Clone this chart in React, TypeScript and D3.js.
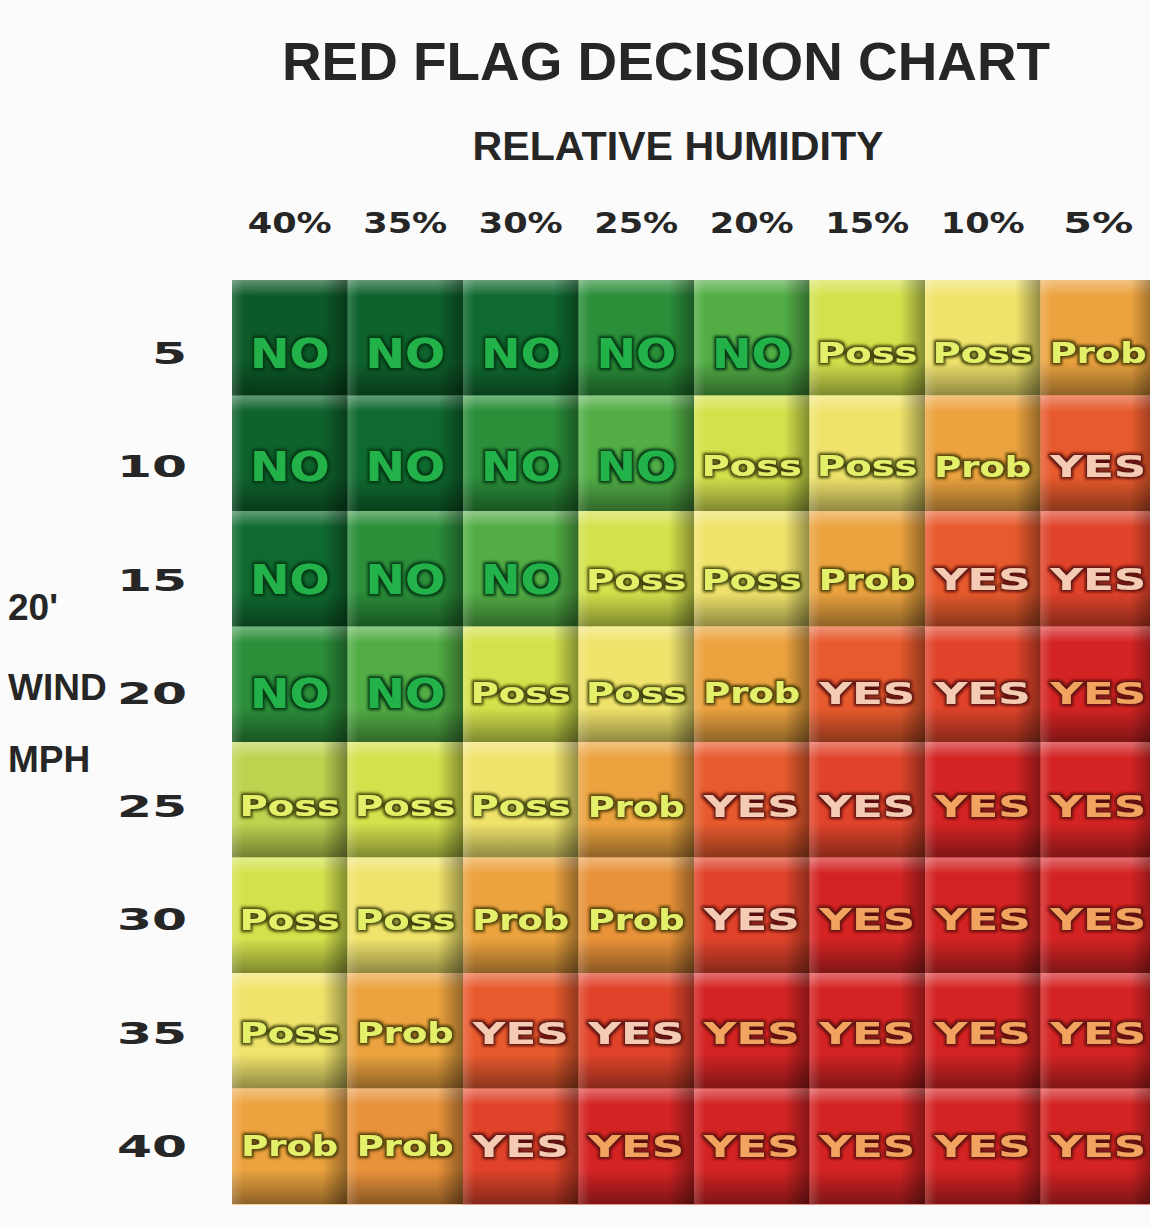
import { useRef, useEffect } from 'react';
import * as d3 from 'd3';

const humidity = ['40%', '35%', '30%', '25%', '20%', '15%', '10%', '5%'];
const windMph = ['5', '10', '15', '20', '25', '30', '35', '40'];
const decisions = [
  ['NO', 'NO', 'NO', 'NO', 'NO', 'Poss', 'Poss', 'Prob'],
  ['NO', 'NO', 'NO', 'NO', 'Poss', 'Poss', 'Prob', 'YES'],
  ['NO', 'NO', 'NO', 'Poss', 'Poss', 'Prob', 'YES', 'YES'],
  ['NO', 'NO', 'Poss', 'Poss', 'Prob', 'YES', 'YES', 'YES'],
  ['Poss', 'Poss', 'Poss', 'Prob', 'YES', 'YES', 'YES', 'YES'],
  ['Poss', 'Poss', 'Prob', 'Prob', 'YES', 'YES', 'YES', 'YES'],
  ['Poss', 'Prob', 'YES', 'YES', 'YES', 'YES', 'YES', 'YES'],
  ['Prob', 'Prob', 'YES', 'YES', 'YES', 'YES', 'YES', 'YES'],
];
const windTitle = ["20'", 'WIND', 'MPH'];

export default function App() {
  const ref = useRef<HTMLDivElement>(null);

  useEffect(() => {
    const container = ref.current;
    if (!container) return;
    d3.select(container).select('svg').remove();

    const width = 1150;
    const height = 1226;

    const svg = d3
      .select(container)
      .append('svg')
      .attr('width', width)
      .attr('height', height)
      .style('position', 'absolute')
      .style('left', '0px')
      .style('top', '0px')
      .style('background', '#fbfbfb');

    const defs = svg.append('defs');

    // pillow shading: vertical and horizontal
    const vg = defs.append('linearGradient').attr('id', 'pillow-v').attr('x1', 0).attr('y1', 0).attr('x2', 0).attr('y2', 1);
    [
      [0, '#fff', 0.35],
      [0.14, '#fff', 0.0],
      [0.7, '#000', 0.0],
      [1, '#000', 0.4],
    ].forEach(([o, c, a]) => vg.append('stop').attr('offset', o as number).attr('stop-color', c as string).attr('stop-opacity', a as number));
    const hg = defs.append('linearGradient').attr('id', 'pillow-h').attr('x1', 0).attr('y1', 0).attr('x2', 1).attr('y2', 0);
    [
      [0, '#fff', 0.18],
      [0.1, '#fff', 0.0],
      [0.78, '#000', 0.0],
      [1, '#000', 0.38],
    ].forEach(([o, c, a]) => hg.append('stop').attr('offset', o as number).attr('stop-color', c as string).attr('stop-opacity', a as number));

    // glow filters for cell text
    const glowColors: Record<string, string> = {
      NO: '#073413',
      Poss: '#3f420a',
      Prob: '#4a3a08',
      YES: '#5a0f0c',
    };
    Object.entries(glowColors).forEach(([k, c]) => {
      const f = defs.append('filter').attr('id', `glow-${k}`).attr('x', '-20%').attr('y', '-40%').attr('width', '140%').attr('height', '180%');
      f.append('feMorphology').attr('in', 'SourceAlpha').attr('operator', 'dilate').attr('radius', 2).attr('result', 'd');
      f.append('feGaussianBlur').attr('in', 'd').attr('stdDeviation', 1.6).attr('result', 'b');
      f.append('feFlood').attr('flood-color', c).attr('result', 'fl');
      f.append('feComposite').attr('in', 'fl').attr('in2', 'b').attr('operator', 'in').attr('result', 's');
      const m = f.append('feMerge');
      m.append('feMergeNode').attr('in', 's');
      m.append('feMergeNode').attr('in', 'SourceGraphic');
    });

    const x = d3.scaleBand<string>().domain(humidity).range([232, 1156]);
    const y = d3.scaleBand<string>().domain(windMph).range([280, 1204]);
    // text centres drift slightly below cell centres towards the top
    const labelY = d3.scaleLinear().domain([0, windMph.length - 1]).range([353, 1146]);

    const colorScales: Record<string, d3.ScaleLinear<string, string>> = {
      NO: d3.scaleLinear<string>().domain([0, 2, 3, 4]).range(['#0c5a28', '#0f6a2f', '#2b8e39', '#52ad45']).clamp(true),
      Poss: d3.scaleLinear<string>().domain([4, 5, 6]).range(['#bdd350', '#d3e24c', '#f0e36c']).clamp(true),
      Prob: d3.scaleLinear<string>().domain([7, 8]).range(['#eca33f', '#e8923a']).clamp(true),
      YES: d3.scaleLinear<string>().domain([8, 9, 10]).range(['#e75a2d', '#e0432a', '#d42323']).clamp(true),
    };
    const textFill = (k: string, risk: number) => {
      if (k === 'NO') return '#22b24a';
      if (k === 'YES') return risk >= 10 ? '#f1a35f' : '#f6cbb4';
      return '#e4ef6a';
    };
    const textStyle: Record<string, { size: number; frac: number }> = {
      NO: { size: 41, frac: 0.69 },
      Poss: { size: 28, frac: 0.87 },
      Prob: { size: 29, frac: 0.84 },
      YES: { size: 30, frac: 0.83 },
    };

    const cells = decisions.flatMap((row, i) =>
      row.map((k, j) => ({ k, i, j, risk: i + j, col: humidity[j], wind: windMph[i] }))
    );

    const g = svg.append('g');
    const cg = g
      .selectAll('g.cell')
      .data(cells)
      .enter()
      .append('g')
      .attr('class', 'cell');

    cg.append('rect')
      .attr('x', (d) => x(d.col)!)
      .attr('y', (d) => y(d.wind)!)
      .attr('width', x.bandwidth() + 0.5)
      .attr('height', y.bandwidth() + 0.5)
      .attr('fill', (d) => colorScales[d.k](d.risk));
    cg.append('rect')
      .attr('x', (d) => x(d.col)!)
      .attr('y', (d) => y(d.wind)!)
      .attr('width', x.bandwidth())
      .attr('height', y.bandwidth())
      .attr('fill', 'url(#pillow-v)');
    cg.append('rect')
      .attr('x', (d) => x(d.col)!)
      .attr('y', (d) => y(d.wind)!)
      .attr('width', x.bandwidth())
      .attr('height', y.bandwidth())
      .attr('fill', 'url(#pillow-h)');

    cg.append('text')
      .attr('x', (d) => x(d.col)! + x.bandwidth() / 2)
      .attr('y', (d) => labelY(d.i) + textStyle[d.k].size * 0.36)
      .attr('text-anchor', 'middle')
      .attr('font-family', "'DejaVu Sans', sans-serif")
      .attr('font-weight', 700)
      .attr('font-size', (d) => textStyle[d.k].size)
      .attr('textLength', (d) => x.bandwidth() * textStyle[d.k].frac)
      .attr('lengthAdjust', 'spacingAndGlyphs')
      .attr('fill', (d) => textFill(d.k, d.risk))
      .attr('filter', (d) => `url(#glow-${d.k})`)
      .text((d) => d.k);

    const ink = '#262626';

    // Title
    svg
      .append('text')
      .attr('x', 666)
      .attr('y', 80)
      .attr('text-anchor', 'middle')
      .attr('font-family', "'Liberation Sans', Arial, sans-serif")
      .attr('font-weight', 700)
      .attr('font-size', 54)
      .attr('textLength', 768)
      .attr('lengthAdjust', 'spacingAndGlyphs')
      .attr('fill', ink)
      .text('RED FLAG DECISION CHART');

    svg
      .append('text')
      .attr('x', 678)
      .attr('y', 160)
      .attr('text-anchor', 'middle')
      .attr('font-family', "'Liberation Sans', Arial, sans-serif")
      .attr('font-weight', 700)
      .attr('font-size', 40)
      .attr('textLength', 411)
      .attr('lengthAdjust', 'spacingAndGlyphs')
      .attr('fill', ink)
      .text('RELATIVE HUMIDITY');

    // Humidity column labels
    svg
      .selectAll('text.hum')
      .data(humidity)
      .enter()
      .append('text')
      .attr('class', 'hum')
      .attr('x', (d) => x(d)! + x.bandwidth() / 2)
      .attr('y', 233)
      .attr('text-anchor', 'middle')
      .attr('font-family', "'DejaVu Sans', sans-serif")
      .attr('font-weight', 700)
      .attr('font-size', 29)
      .attr('textLength', (d) => (d.length === 2 ? 70 : 84))
      .attr('lengthAdjust', 'spacingAndGlyphs')
      .attr('fill', ink)
      .text((d) => d);

    // Wind speed row labels
    svg
      .selectAll('text.wind')
      .data(windMph)
      .enter()
      .append('text')
      .attr('class', 'wind')
      .attr('x', 187)
      .attr('y', (_d, i) => labelY(i) + 11)
      .attr('text-anchor', 'end')
      .attr('font-family', "'DejaVu Sans', sans-serif")
      .attr('font-weight', 700)
      .attr('font-size', 30)
      .attr('textLength', (d) => d.length * 35)
      .attr('lengthAdjust', 'spacingAndGlyphs')
      .attr('fill', ink)
      .text((d) => d);

    // Axis title on the left
    const titleY = [620, 700, 772];
    svg
      .selectAll('text.wt')
      .data(windTitle)
      .enter()
      .append('text')
      .attr('class', 'wt')
      .attr('x', 8)
      .attr('y', (_d, i) => titleY[i])
      .attr('font-family', "'Liberation Sans', Arial, sans-serif")
      .attr('font-weight', 700)
      .attr('font-size', 37)
      .attr('fill', ink)
      .text((d) => d);
  }, []);

  return <div ref={ref} style={{ width: 1150, height: 1226 }} />;
}
